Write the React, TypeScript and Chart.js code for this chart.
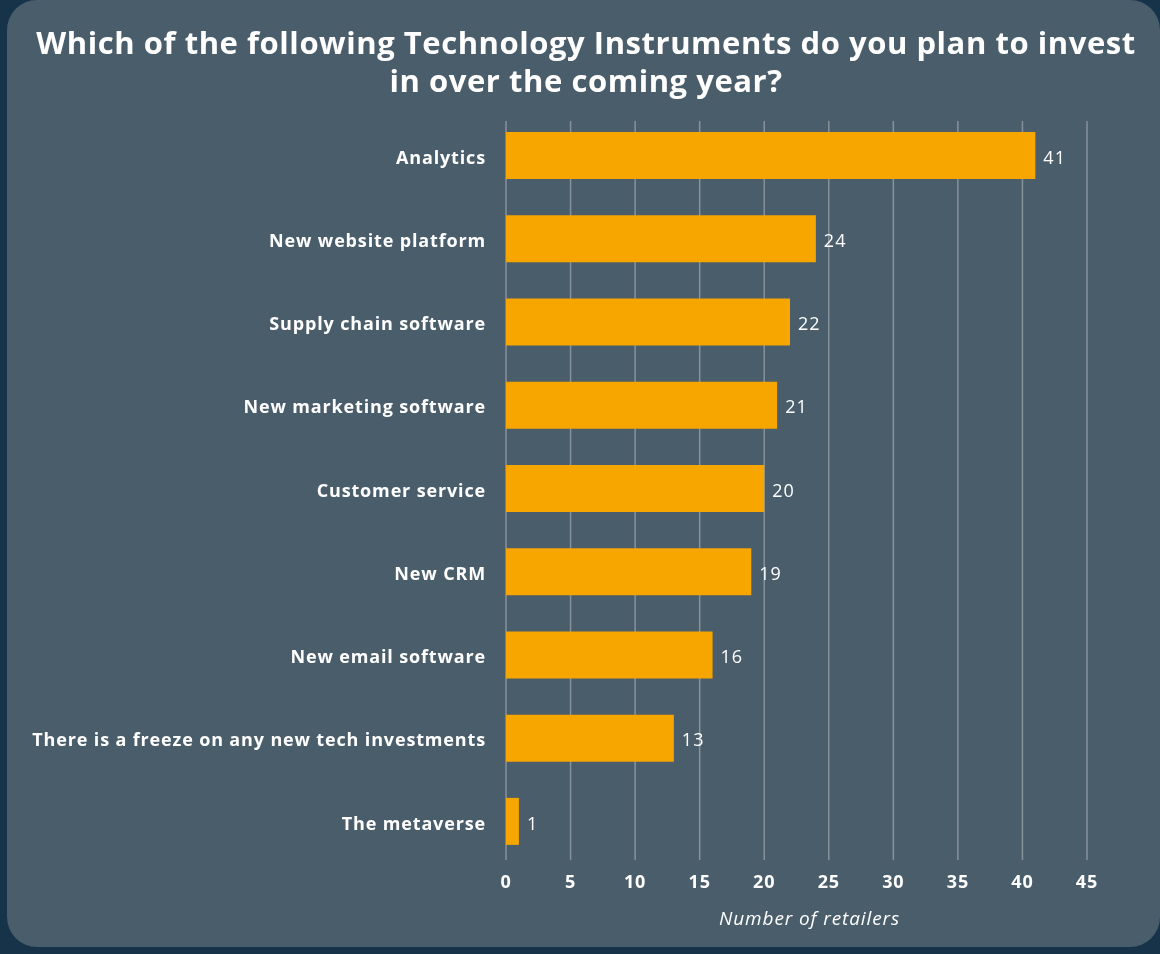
import React, { useEffect, useRef } from "react";
import { Chart, registerables } from "chart.js";

Chart.register(...registerables);

const titleLines = [
  "Which of the following Technology Instruments do you plan to invest",
  "in over the coming year?",
];
const categories = [
  "Analytics",
  "New website platform",
  "Supply chain software",
  "New marketing software",
  "Customer service",
  "New CRM",
  "New email software",
  "There is a freeze on any new tech investments",
  "The metaverse",
];
const retailers = [41, 24, 22, 21, 20, 19, 16, 13, 1];
const xAxisTitle = "Number of retailers";
const xMax = 45;
const xStep = 5;

const FONT = "'Open Sans', 'Noto Sans', sans-serif";

const spacing = {
  id: "spacing",
  beforeDraw(chart: any) {
    (chart.ctx as any).letterSpacing = "0.85px";
  },
};

const gridLines = {
  id: "gridLines",
  beforeDatasetsDraw(chart: any) {
    const { ctx, chartArea, scales } = chart;
    const x = scales.x;
    ctx.save();
    ctx.strokeStyle = "#87929b";
    ctx.lineWidth = 1.5;
    x.ticks.forEach((t: any) => {
      const px = x.getPixelForValue(t.value);
      ctx.beginPath();
      ctx.moveTo(px, chartArea.top + 7);
      ctx.lineTo(px, chartArea.bottom - 3);
      ctx.stroke();
    });
    ctx.restore();
  },
};

const categoryLabels = {
  id: "categoryLabels",
  afterDraw(chart: any) {
    const { ctx, chartArea, scales } = chart;
    const y = scales.y;
    ctx.save();
    (ctx as any).letterSpacing = "0.85px";
    ctx.fillStyle = "#ffffff";
    ctx.font = `700 18px ${FONT}`;
    ctx.textAlign = "right";
    ctx.textBaseline = "middle";
    chart.data.labels.forEach((lab: string, i: number) => {
      ctx.fillText(lab, chartArea.left - 20, y.getPixelForTick(i) + 3);
    });
    ctx.restore();
  },
};

const valueLabels = {
  id: "valueLabels",
  afterDatasetsDraw(chart: any) {
    const ctx = chart.ctx;
    const meta = chart.getDatasetMeta(0);
    ctx.save();
    (ctx as any).letterSpacing = "1px";
    ctx.fillStyle = "#ffffff";
    ctx.font = `400 18px ${FONT}`;
    ctx.textAlign = "left";
    ctx.textBaseline = "middle";
    meta.data.forEach((bar: any, i: number) => {
      ctx.fillText(String(chart.data.datasets[0].data[i]), bar.x + 8, bar.y + 3);
    });
    ctx.restore();
  },
};

const titles = {
  id: "titles",
  afterDraw(chart: any) {
    const { ctx, chartArea } = chart;
    ctx.save();
    ctx.fillStyle = "#ffffff";
    ctx.textAlign = "center";
    ctx.textBaseline = "middle";
    (ctx as any).letterSpacing = "0.55px";
    ctx.font = `700 31px ${FONT}`;
    ctx.fillText(titleLines[0], 586, 45);
    ctx.fillText(titleLines[1], 586, 83);
    (ctx as any).letterSpacing = "0.9px";
    ctx.font = `italic 400 19px ${FONT}`;
    ctx.fillText(xAxisTitle, (chartArea.left + chartArea.right) / 2 + 13, 920);
    ctx.restore();
  },
};

export default function App() {
  const ref = useRef<HTMLCanvasElement | null>(null);

  useEffect(() => {
    document.body.style.margin = "0";
    const chart = new Chart(ref.current as HTMLCanvasElement, {
      type: "bar",
      data: {
        labels: categories,
        datasets: [
          {
            data: retailers,
            backgroundColor: "#f7a600",
            borderWidth: 0,
            barPercentage: 0.565,
            categoryPercentage: 1,
          },
        ],
      },
      options: {
        indexAxis: "y",
        animation: false,
        responsive: false,
        maintainAspectRatio: false,
        layout: { padding: { left: 0, right: 73, top: 114, bottom: 0 } },
        plugins: {
          legend: { display: false },
          tooltip: { enabled: false },
          title: { display: false },
        },
        scales: {
          x: {
            min: 0,
            max: xMax,
            ticks: {
              stepSize: xStep,
              color: "#ffffff",
              font: { family: FONT, size: 18, weight: "bold" },
              padding: 9,
            },
            grid: { display: false, drawTicks: false },
            border: { display: false },
            afterFit(scale: any) {
              scale.height = 91;
            },
          },
          y: {
            ticks: { display: false },
            grid: { display: false, drawTicks: false },
            border: { display: false },
            afterFit(scale: any) {
              scale.width = 506;
            },
          },
        },
      },
      plugins: [spacing, gridLines, valueLabels, categoryLabels, titles],
    } as any);
    return () => chart.destroy();
  }, []);

  return (
    <div
      style={{
        position: "fixed",
        left: 0,
        top: 0,
        width: 1160,
        height: 954,
        background: "#16334a",
        overflow: "hidden",
      }}
    >
      <div
        style={{
          position: "absolute",
          left: 7,
          top: 0,
          width: 1153,
          height: 947,
          background: "#4a5d6b",
          borderRadius: 30,
        }}
      />
      <canvas
        ref={ref}
        width={1160}
        height={954}
        style={{ position: "absolute", left: 0, top: 0, width: 1160, height: 954 }}
      />
    </div>
  );
}
